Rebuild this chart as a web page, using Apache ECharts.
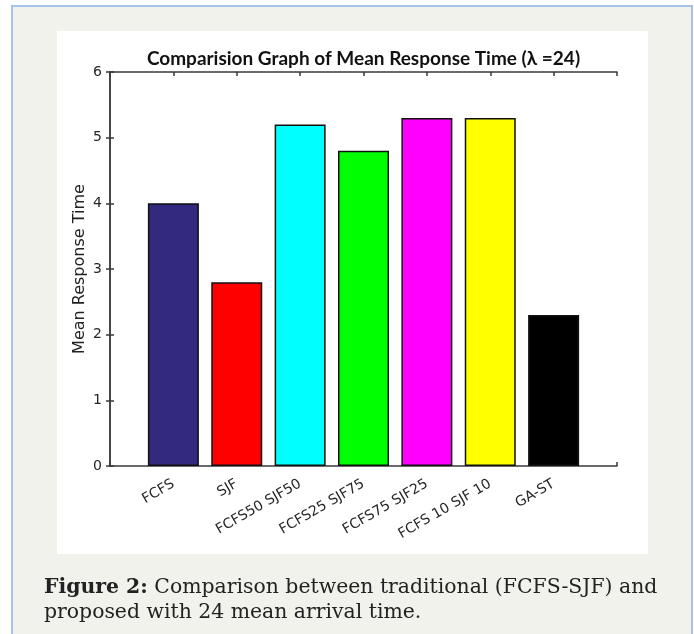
<!DOCTYPE html>
<html>
<head>
<meta charset="utf-8">
<script src="https://cdn.jsdelivr.net/npm/echarts@6/dist/echarts.min.js"></script>
<style>
html,body{margin:0;padding:0;background:#ffffff;}
#chart{width:694px;height:634px;}
</style>
</head>
<body>
<div id="chart"></div>
<script>
// ---- data ----
var categories = ['FCFS', 'SJF', 'FCFS50 SJF50', 'FCFS25 SJF75', 'FCFS75 SJF25', 'FCFS 10 SJF 10', 'GA-ST'];
var values = [4.0, 2.8, 5.2, 4.8, 5.3, 5.3, 2.3];
var colors = ['#332a80', '#ff0000', '#00ffff', '#00ff00', '#ff00ff', '#ffff00', '#000000'];
var yTicks = [0, 1, 2, 3, 4, 5, 6];
var titleText = 'Comparision Graph of Mean Response Time (\u03bb =24)';
var yName = 'Mean Response Time';
var captionBold = 'Figure 2:';
var captionLine1 = ' Comparison between traditional (FCFS-SJF) and';
var captionLine2 = 'proposed with 24 mean arrival time.';

var chart = echarts.init(document.getElementById('chart'), null, {renderer: 'canvas'});

var barData = values.map(function (v, i) {
  return {value: [i + 1, v], itemStyle: {color: colors[i]}};
});

var axisLineStyle = {color: '#3a3a3a', width: 1.5};
var labelFont = {fontFamily: 'DejaVu Sans, sans-serif', fontSize: 14, color: '#262626'};

var option = {
  animation: false,
  backgroundColor: '#ffffff',
  graphic: [
    {type: 'rect', silent: true, z: -10, shape: {x: 12, y: 6, width: 680, height: 640},
     style: {fill: '#f2f2ec', stroke: '#a6c4e8', lineWidth: 2}},
    {type: 'rect', silent: true, z: -9, shape: {x: 57, y: 31, width: 591, height: 523},
     style: {fill: '#ffffff'}},
    {type: 'text', x: 363.5, y: 59, silent: true,
     style: {text: titleText, fontFamily: 'Lato, sans-serif', fontWeight: 'bold', fontSize: 19,
             fill: '#111111', align: 'center', verticalAlign: 'middle'}},
    {type: 'text', x: 44, y: 600, silent: true,
     style: {text: '{b|' + captionBold + '}{r|' + captionLine1 + '}\n{r|' + captionLine2 + '}',
             verticalAlign: 'middle', fill: '#222222',
             rich: {
               b: {fontFamily: 'DejaVu Serif, serif', fontWeight: 'bold', fontSize: 20.4, lineHeight: 25, fill: '#222222'},
               r: {fontFamily: 'DejaVu Serif, serif', fontSize: 20.4, lineHeight: 25, fill: '#222222'}
             }}}
  ],
  grid: {left: 110, top: 72, width: 507, height: 394, containLabel: false},
  xAxis: [
    {type: 'value', position: 'bottom', min: 0, max: 8, interval: 1,
     axisLine: {show: true, lineStyle: axisLineStyle, onZero: false},
     axisTick: {show: true, inside: true, length: 4, lineStyle: axisLineStyle},
     splitLine: {show: false},
     axisLabel: Object.assign({rotate: 30, margin: 17, formatter: function (v) {
       var i = Math.round(v) - 1; return (i >= 0 && i < categories.length) ? categories[i] : '';
     }}, labelFont)},
    {type: 'value', position: 'top', min: 0, max: 8, interval: 1,
     axisLine: {show: true, lineStyle: axisLineStyle, onZero: false},
     axisTick: {show: true, inside: true, length: 4, lineStyle: axisLineStyle},
     splitLine: {show: false}, axisLabel: {show: false}}
  ],
  yAxis: [
    {type: 'value', position: 'left', min: yTicks[0], max: yTicks[yTicks.length - 1], interval: 1,
     name: yName, nameLocation: 'middle', nameGap: 22, nameRotate: 90, nameMoveOverlap: false,
     nameTextStyle: {fontFamily: 'DejaVu Sans, sans-serif', fontSize: 16, color: '#222222'},
     axisLine: {show: true, lineStyle: axisLineStyle},
     axisTick: {show: true, inside: true, length: 4, lineStyle: axisLineStyle},
     splitLine: {show: false},
     axisLabel: Object.assign({margin: 8}, labelFont)},
    {type: 'value', position: 'right', min: yTicks[0], max: yTicks[yTicks.length - 1], interval: 1,
     axisLine: {show: true, lineStyle: axisLineStyle},
     axisTick: {show: true, inside: true, length: 4, lineStyle: axisLineStyle},
     splitLine: {show: false}, axisLabel: {show: false}}
  ],
  series: [{
    type: 'bar', xAxisIndex: 0, yAxisIndex: 0, barWidth: 51,
    data: barData,
    itemStyle: {borderColor: '#111111', borderWidth: 1.5}
  }]
};
chart.setOption(option);
</script>
</body>
</html>
